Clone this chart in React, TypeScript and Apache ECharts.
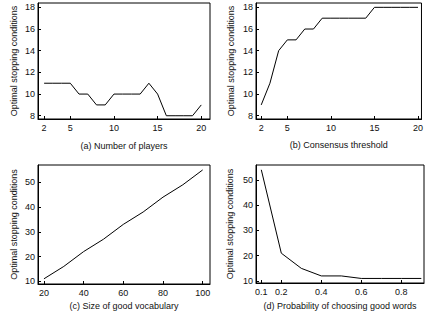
import React, { useEffect, useRef } from "react";
import * as echarts from "echarts";

const playersX = [2, 3, 4, 5, 6, 7, 8, 9, 10, 11, 12, 13, 14, 15, 16, 17, 18, 19, 20];
const playersY = [11, 11, 11, 11, 10, 10, 9, 9, 10, 10, 10, 10, 11, 10, 8, 8, 8, 8, 9];

const thresholdX = [2, 3, 4, 5, 6, 7, 8, 9, 10, 11, 12, 13, 14, 15, 16, 17, 18, 19, 20];
const thresholdY = [9, 11, 14, 15, 15, 16, 16, 17, 17, 17, 17, 17, 17, 18, 18, 18, 18, 18, 18];

const vocabX = [20, 30, 40, 50, 60, 70, 80, 90, 100];
const vocabY = [11, 16, 22, 27, 33, 38, 44, 49, 55];

const probX = [0.1, 0.2, 0.3, 0.4, 0.5, 0.6, 0.7, 0.8, 0.9];
const probY = [54, 21, 15, 12, 12, 11, 11, 11, 11];

const xTicksA = [2, 5, 10, 15, 20];
const xTicksB = [2, 5, 10, 15, 20];
const xTicksC = [20, 40, 60, 80, 100];
const xTicksD = [0.1, 0.2, 0.4, 0.6, 0.8];
const yTicksAB = [8, 10, 12, 14, 16, 18];
const yTicksCD = [10, 20, 30, 40, 50];

const titles = [
  "(a) Number of players",
  "(b) Consensus threshold",
  "(c) Size of good vocabulary",
  "(d) Probability of choosing good words",
];
const yName = "Optimal stopping conditions";

const FONT = "Liberation Sans, Arial, Helvetica, sans-serif";

export default function App() {
  const ref = useRef<HTMLDivElement>(null);
  useEffect(() => {
    if (!ref.current) return;
    const chart = echarts.init(ref.current, undefined, { renderer: "svg" });
    const grids = [
      { left: 38, top: 3, width: 172, height: 116 },
      { left: 256, top: 3, width: 168, height: 116 },
      { left: 38, top: 165, width: 172, height: 119 },
      { left: 256, top: 165, width: 168, height: 118 },
    ];
    const xr = [
      [1.3, 21],
      [1.4, 20.4],
      [17, 103.7],
      [0.0735, 0.9135],
    ];
    const yr = [
      [7.7, 18.4],
      [7.7, 18.4],
      [8.9, 57],
      [9.2, 55.9],
    ];
    const xt = [xTicksA, xTicksB, xTicksC, xTicksD];
    const yt = [yTicksAB, yTicksAB, yTicksCD, yTicksCD];
    const xGap = [22, 21, 17, 18];
    const yGap = [20, 21, 20, 21.5];
    const data = [
      playersX.map((x, i) => [x, playersY[i]]),
      thresholdX.map((x, i) => [x, thresholdY[i]]),
      vocabX.map((x, i) => [x, vocabY[i]]),
      probX.map((x, i) => [x, probY[i]]),
    ];
    const axisLine = { show: true, lineStyle: { color: "#000", width: 1 } };
    chart.setOption({
      animation: false,
      textStyle: { fontFamily: FONT },
      grid: grids.map((g) => ({
        ...g,
        show: true,
        borderColor: "#000",
        borderWidth: 1,
        backgroundColor: "#fff",
      })),
      xAxis: grids.map((_, i) => ({
        type: "value",
        gridIndex: i,
        min: xr[i][0],
        max: xr[i][1],
        name: titles[i],
        nameLocation: "middle",
        nameGap: xGap[i],
        nameTextStyle: { fontSize: 9, color: "#111", fontFamily: FONT },
        axisLine,
        splitLine: { show: false },
        axisTick: { show: true, inside: true, length: 3, customValues: xt[i], lineStyle: { color: "#000" } },
        axisLabel: {
          customValues: xt[i],
          fontSize: 9,
          color: "#111",
          margin: 4,
          fontFamily: FONT,
        },
      })),
      yAxis: grids.map((_, i) => ({
        type: "value",
        gridIndex: i,
        min: yr[i][0],
        max: yr[i][1],
        name: yName,
        nameLocation: "middle",
        nameGap: yGap[i],
        nameTextStyle: { fontSize: 9, color: "#111", fontFamily: FONT },
        axisLine,
        splitLine: { show: false },
        axisTick: { show: true, inside: true, length: 3, customValues: yt[i], lineStyle: { color: "#000" } },
        axisLabel: {
          customValues: yt[i],
          fontSize: 9,
          color: "#111",
          margin: 3,
          fontFamily: FONT,
        },
      })),
      series: data.map((d, i) => ({
        type: "line",
        xAxisIndex: i,
        yAxisIndex: i,
        data: d,
        showSymbol: false,
        symbol: "none",
        lineStyle: { color: "#000", width: 1 },
      })),
    });
    return () => chart.dispose();
  }, []);
  return (
    <div
      ref={ref}
      style={{ position: "absolute", left: 0, top: 0, width: 426, height: 321, background: "#fff" }}
    />
  );
}
